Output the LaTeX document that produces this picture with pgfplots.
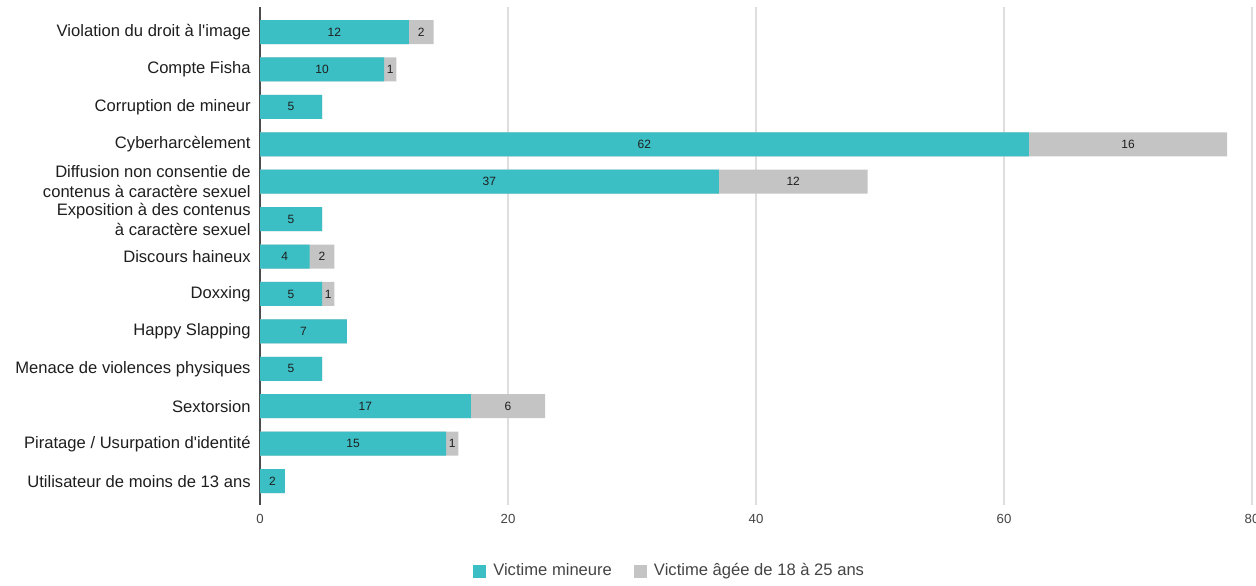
\documentclass[border=0pt]{standalone}
\usepackage{pgfplots}
\usepackage{pgfplotstable}
\pgfplotsset{compat=1.18}
\usepackage{fontspec}
\setmainfont{Liberation Sans}
\definecolor{teal1}{RGB}{59,191,196}
\definecolor{gray1}{RGB}{196,196,196}
\definecolor{txt}{RGB}{30,30,30}
\definecolor{lbl}{RGB}{68,68,68}

\pgfplotstableread{
idx a b
0 12 2
1 10 1
2 5 0
3 62 16
4 37 12
5 5 0
6 4 2
7 5 1
8 7 0
9 5 0
10 17 6
11 15 1
12 2 0
}\data

\begin{document}
\begin{tikzpicture}[x=1pt,y=1pt]
\useasboundingbox (0,0) rectangle (628,292.5);
\begin{axis}[
  at={(130pt,40pt)}, anchor=south west,
  scale only axis, width=496pt, height=249pt,
  xmin=0, xmax=80, ymin=-0.67, ymax=12.64, y dir=reverse,
  /pgf/number format/assume math mode=true,
  xtick={20,40,60,80},
  extra x ticks={0},
  extra x tick style={grid=major, major grid style={draw=black!70, line width=1pt}},
  xmajorgrids,
  major grid style={draw=black!13, line width=1pt},
  axis line style={draw=none},
  major tick length=0pt,
  ytick={0,...,12},
  yticklabels={
    Violation du droit à l\textquotesingle image,
    Compte Fisha,
    Corruption de mineur,
    Cyberharcèlement,
    {Diffusion non consentie de\\contenus à caractère sexuel},
    {Exposition à des contenus\\à caractère sexuel},
    Discours haineux,
    Doxxing,
    Happy Slapping,
    Menace de violences physiques,
    Sextorsion,
    Piratage / Usurpation d\textquotesingle identité,
    Utilisateur de moins de 13 ans},
  yticklabel style={font=\fontsize{8.3}{10}\selectfont, align=right, text=txt, inner sep=0pt, xshift=-4.5pt},
  xticklabel style={font=\fontsize{6.6}{8}\selectfont, text=lbl, inner sep=0pt, yshift=-4.2pt},
  legend style={at={(0.414,-0.1325)}, anchor=center, draw=none, fill=none,
    legend columns=2, font=\fontsize{8.3}{10}\selectfont, text=lbl,
    /tikz/every even column/.append style={column sep=9pt},
    /tikz/every odd column/.append style={column sep=1.5pt},
    legend cell align=left, inner sep=0pt},
  reverse legend,
  every node near coord/.style={anchor=center, font=\fontsize{6}{7}\selectfont, text=txt},
]
\addplot[xbar, bar width=12pt, bar shift=0pt, fill=gray1, draw=none,
  legend image code/.code={\fill[gray1] (0pt,-3.25pt) rectangle (6.5pt,3.25pt);}]
  table[x expr=\thisrow{a}+\thisrow{b}, y=idx] {\data};
\addlegendentry{Victime âgée de 18 à 25 ans}
\addplot[xbar, bar width=12pt, bar shift=0pt, fill=teal1, draw=none,
  legend image code/.code={\fill[teal1] (0pt,-3.25pt) rectangle (6.5pt,3.25pt);}]
  table[x=a, y=idx] {\data};
\addlegendentry{Victime mineure}
\addplot[draw=none, mark=none, forget plot, nodes near coords, point meta=explicit]
  table[x expr=\thisrow{a}/2, y=idx, meta=a] {\data};
\addplot[draw=none, mark=none, forget plot, nodes near coords, point meta=explicit,
  restrict expr to domain={\thisrow{b}}{0.5:100}]
  table[x expr=\thisrow{a}+\thisrow{b}/2, y=idx, meta=b] {\data};
\end{axis}
\end{tikzpicture}
\end{document}
